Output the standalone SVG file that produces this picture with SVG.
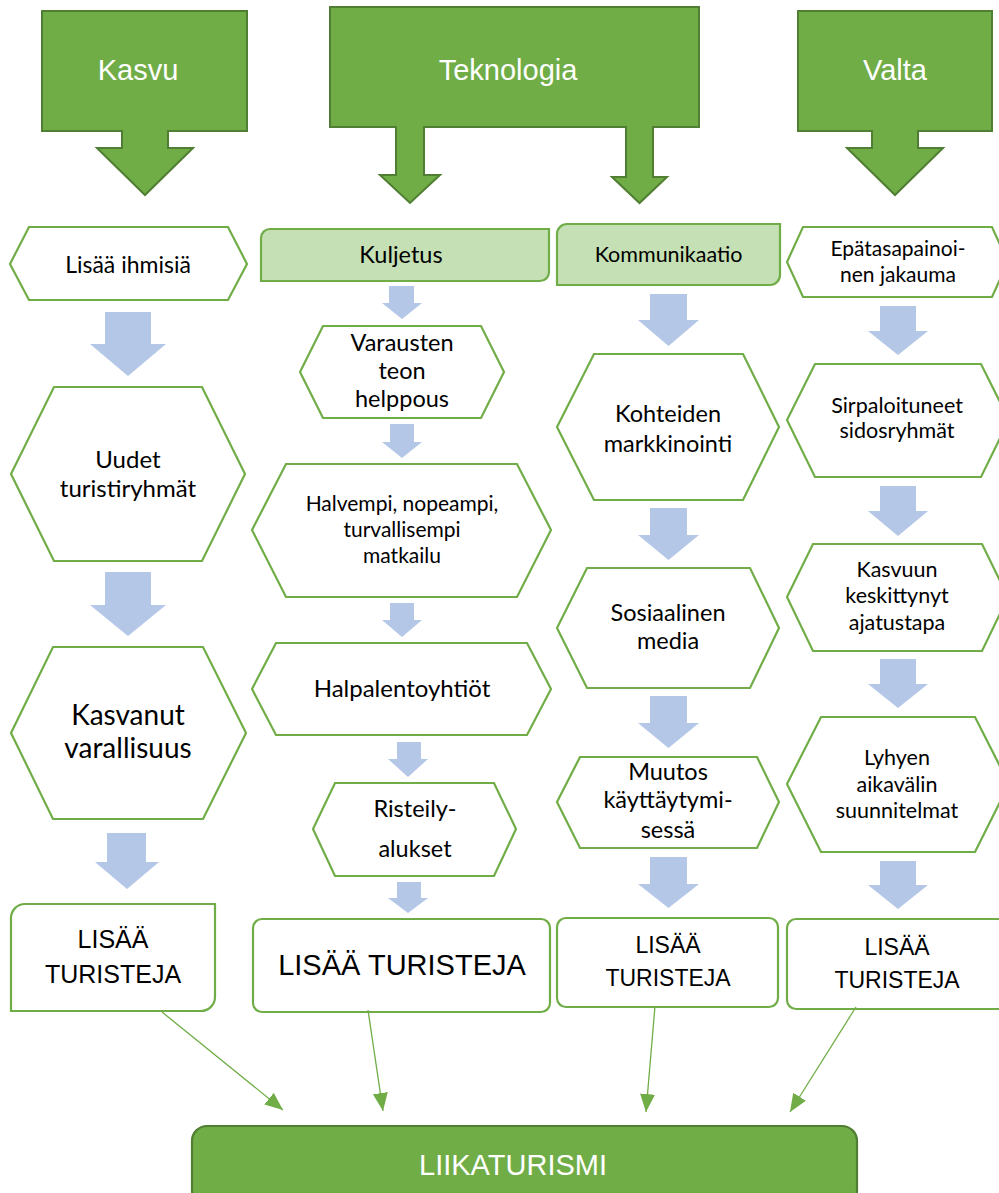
<svg xmlns="http://www.w3.org/2000/svg" width="999" height="1193" viewBox="0 0 999 1193">
<defs>
<style>
.callout{fill:#70AD47;stroke:#507E32;stroke-width:2}
.ctext{font-family:"Liberation Sans",Arial,sans-serif;fill:#ffffff;text-anchor:middle}
.hex{fill:#ffffff;stroke:#70AD47;stroke-width:2.2}
.cat{fill:#C5E0B4;stroke:#70AD47;stroke-width:2.2}
.box{fill:#ffffff;stroke:#70AD47;stroke-width:2.2}
.t{font-family:Lato,"Open Sans",sans-serif;fill:#000000;text-anchor:middle}
.big{font-family:"Liberation Sans",Arial,sans-serif;fill:#000000;text-anchor:middle}
.blue{fill:#B4C7E7}
.conn{stroke:#70AD47;stroke-width:1.3;fill:none}
</style>
<marker id="ah" markerUnits="userSpaceOnUse" markerWidth="20" markerHeight="16" refX="18" refY="7.5" orient="auto">
<path d="M0,0 L18,7.5 L0,15 Z" fill="#70AD47"/>
</marker>
</defs>
<rect width="999" height="1193" fill="#ffffff"/>

<g id="kasvu">
<path class="callout" d="M42,11 H247 V131 H168 V148 H193 L145,195 L97,148 H122 V131 H42 Z"/>
<text class="ctext" x="138" y="80" font-size="29">Kasvu</text>
</g>
<g id="teknologia">
<path class="callout" d="M330,7 H699 V127 H653 V177 H667 L639.5,203 L612,177 H626 V127 H424 V175 H440 L410,203 L380,175 H396 V127 H330 Z"/>
<text class="ctext" x="508" y="80" font-size="29">Teknologia</text>
</g>
<g id="valta">
<path class="callout" d="M798,11 H992 V131 H918 V148 H943 L895,195 L847,148 H872 V131 H798 Z"/>
<text class="ctext" x="895" y="80" font-size="29">Valta</text>
</g>

<g id="flow-arrows">
<path class="blue" d="M105,312 H151 V344 H166 L128,376 L90,344 H105 Z"/>
<path class="blue" d="M105,572 H151 V605 H166 L128,636 L90,605 H105 Z"/>
<path class="blue" d="M107,833 H146 V862 H159 L127,889 L95,862 H107 Z"/>
<path class="blue" d="M389,286 H414 V303 H422 L402,319 L382,303 H389 Z"/>
<path class="blue" d="M390,424 H414 V442 H422 L402,458 L382,442 H390 Z"/>
<path class="blue" d="M390,603 H414 V620 H422 L402,637 L382,620 H390 Z"/>
<path class="blue" d="M397,742 H421 V759 H428 L408,777 L388,759 H397 Z"/>
<path class="blue" d="M397,882 H421 V898 H428 L408,913 L388,898 H397 Z"/>
<path class="blue" d="M650,294 H687 V320 H699 L668.5,346 L638,320 H650 Z"/>
<path class="blue" d="M650,508 H687 V535 H699 L668.5,560 L638,535 H650 Z"/>
<path class="blue" d="M650,696 H687 V723 H699 L668.5,748 L638,723 H650 Z"/>
<path class="blue" d="M650,857 H687 V884 H699 L668.5,908 L638,884 H650 Z"/>
<path class="blue" d="M880,306 H916 V331 H928 L898,355 L868,331 H880 Z"/>
<path class="blue" d="M880,486 H916 V511 H928 L898,536 L868,511 H880 Z"/>
<path class="blue" d="M880,659 H916 V684 H928 L898,708 L868,684 H880 Z"/>
<path class="blue" d="M880,861 H916 V885 H928 L898,909 L868,885 H880 Z"/>
</g>

<g id="lisaa-ihmisia">
<polygon class="hex" points="29,227 228,227 247,264 228,300 29,300 10,264"/>
<text class="t" x="128" y="273" font-size="23">Lisää ihmisiä</text>
</g>
<g id="uudet-turistiryhmat">
<polygon class="hex" points="54,387 202,387 245,474 202,561 54,561 11,474"/>
<text class="t" x="128" y="468" font-size="24">Uudet</text>
<text class="t" x="128" y="497" font-size="24">turistiryhmät</text>
</g>
<g id="kasvanut-varallisuus">
<polygon class="hex" points="53,647 203,647 246,733 203,819 53,819 11,733"/>
<text class="t" x="128" y="725" font-size="28">Kasvanut</text>
<text class="t" x="128" y="758" font-size="28">varallisuus</text>
</g>
<g id="lisaa-turisteja-1">
<path class="box" d="M25,904 H215 V997 A14,14 0 0 1 201,1011 H11 V918 A14,14 0 0 1 25,904 Z"/>
<text class="big" x="113" y="948" font-size="25">LISÄÄ</text>
<text class="big" x="113" y="983" font-size="25">TURISTEJA</text>
</g>

<g id="kuljetus">
<path class="cat" d="M270,229 H549 V272 A9,9 0 0 1 540,281 H261 V238 A9,9 0 0 1 270,229 Z"/>
<text class="t" x="401" y="263" font-size="23.5">Kuljetus</text>
</g>
<g id="varausten">
<polygon class="hex" points="323,326 481,326 504,372 481,418 323,418 300,372"/>
<text class="t" x="402" y="351" font-size="23.5">Varausten</text>
<text class="t" x="402" y="379" font-size="23.5">teon</text>
<text class="t" x="402" y="407" font-size="23.5">helppous</text>
</g>
<g id="halvempi">
<polygon class="hex" points="286,464 517,464 551,530 517,597 286,597 252,530"/>
<text class="t" x="402" y="511" font-size="21">Halvempi, nopeampi,</text>
<text class="t" x="402" y="537" font-size="21">turvallisempi</text>
<text class="t" x="402" y="563" font-size="21">matkailu</text>
</g>
<g id="halpalentoyhtiot">
<polygon class="hex" points="276,643 527,643 551,689 527,735 276,735 252,689"/>
<text class="t" x="402" y="697" font-size="24">Halpalentoyhtiöt</text>
</g>
<g id="risteilyalukset">
<polygon class="hex" points="335,783 494,783 516,829 494,876 335,876 313,829"/>
<text class="t" x="415" y="817" font-size="23.5">Risteily-</text>
<text class="t" x="415" y="857" font-size="23.5">alukset</text>
</g>
<g id="lisaa-turisteja-2">
<rect class="box" x="253" y="919" width="297" height="93" rx="9"/>
<text class="big" x="402" y="975" font-size="29">LISÄÄ TURISTEJA</text>
</g>

<g id="kommunikaatio">
<path class="cat" d="M567,224 H780 V275 A10,10 0 0 1 770,285 H557 V234 A10,10 0 0 1 567,224 Z"/>
<text class="t" x="668.5" y="262" font-size="21.5">Kommunikaatio</text>
</g>
<g id="kohteiden-markkinointi">
<polygon class="hex" points="594,354 743,354 779,427 743,500 594,500 557,427"/>
<text class="t" x="668" y="422" font-size="23.5">Kohteiden</text>
<text class="t" x="668" y="452" font-size="23.5">markkinointi</text>
</g>
<g id="sosiaalinen-media">
<polygon class="hex" points="587,568 750,568 779,628 750,688 587,688 557,628"/>
<text class="t" x="668" y="621" font-size="23.5">Sosiaalinen</text>
<text class="t" x="668" y="649" font-size="23.5">media</text>
</g>
<g id="muutos">
<polygon class="hex" points="580,757 757,757 779,802 757,848 580,848 557,802"/>
<text class="t" x="668" y="780" font-size="23.5">Muutos</text>
<text class="t" x="668" y="808" font-size="23.5">käyttäytymi-</text>
<text class="t" x="668" y="838" font-size="23.5">sessä</text>
</g>
<g id="lisaa-turisteja-3">
<rect class="box" x="557" y="918" width="221" height="89" rx="9"/>
<text class="big" x="668" y="953" font-size="23">LISÄÄ</text>
<text class="big" x="668" y="986" font-size="23">TURISTEJA</text>
</g>

<g id="epatasapainoinen">
<polygon class="hex" points="803,227 992,227 1008,262 992,297 803,297 787,262"/>
<text class="t" x="898" y="256" font-size="21">Epätasapainoi-</text>
<text class="t" x="898" y="282" font-size="21">nen jakauma</text>
</g>
<g id="sirpaloituneet">
<polygon class="hex" points="815,364 981,364 1009,420 981,477 815,477 787,420"/>
<text class="t" x="897" y="413" font-size="21.5">Sirpaloituneet</text>
<text class="t" x="897" y="438" font-size="21.5">sidosryhmät</text>
</g>
<g id="kasvuun">
<polygon class="hex" points="813,544 982,544 1008,597 982,651 813,651 787,597"/>
<text class="t" x="897" y="577" font-size="21.5">Kasvuun</text>
<text class="t" x="897" y="603" font-size="21.5">keskittynyt</text>
<text class="t" x="897" y="630" font-size="21.5">ajatustapa</text>
</g>
<g id="lyhyen">
<polygon class="hex" points="821,717 975,717 1009,784 975,852 821,852 787,784"/>
<text class="t" x="897" y="765" font-size="21.5">Lyhyen</text>
<text class="t" x="897" y="792" font-size="21.5">aikavälin</text>
<text class="t" x="897" y="818" font-size="21.5">suunnitelmat</text>
</g>
<g id="lisaa-turisteja-4">
<rect class="box" x="787" y="919" width="225" height="90" rx="9"/>
<text class="big" x="897" y="955" font-size="23">LISÄÄ</text>
<text class="big" x="897" y="988" font-size="23">TURISTEJA</text>
</g>

<g id="liikaturismi">
<rect x="192" y="1126" width="665" height="80" rx="15" fill="#70AD47" stroke="#507E32" stroke-width="2.2"/>
<text class="ctext" x="513" y="1175" font-size="29">LIIKATURISMI</text>
</g>

<g id="connectors">
<line class="conn" x1="162" y1="1012" x2="283" y2="1110" marker-end="url(#ah)"/>
<line class="conn" x1="368" y1="1010" x2="383" y2="1111" marker-end="url(#ah)"/>
<line class="conn" x1="655" y1="1006" x2="646" y2="1112" marker-end="url(#ah)"/>
<line class="conn" x1="856" y1="1007" x2="790" y2="1112" marker-end="url(#ah)"/>
</g>
</svg>
